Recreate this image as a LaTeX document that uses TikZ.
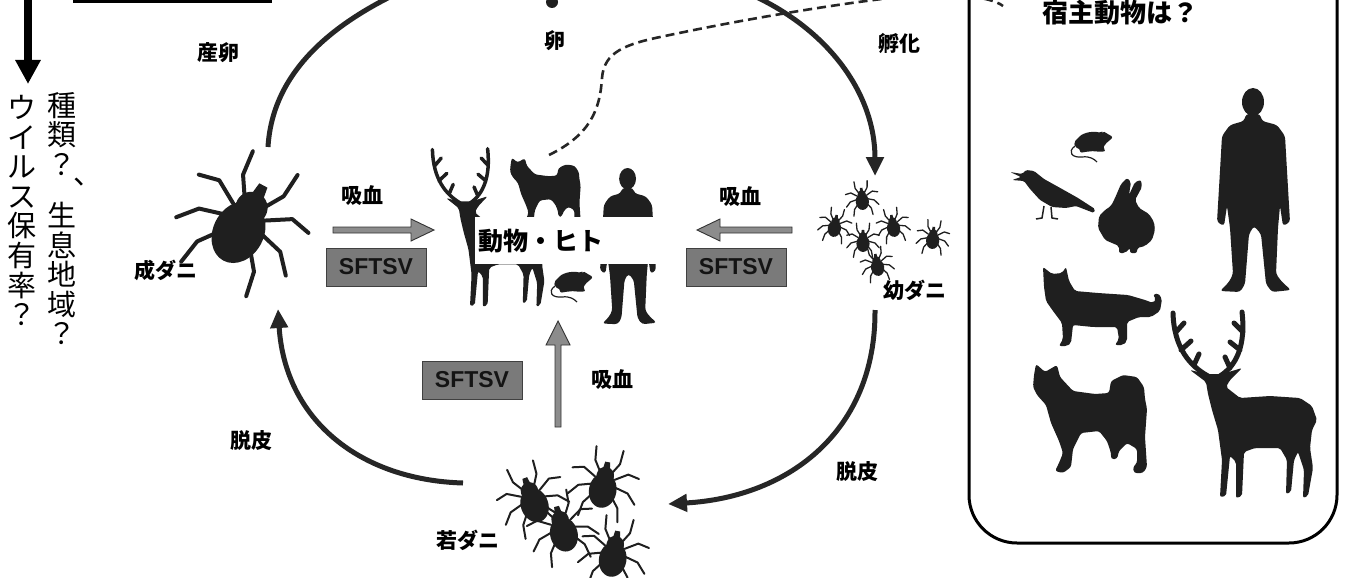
\documentclass[tikz,border=0pt]{standalone}
\usepackage{fontspec}
\setmainfont{Noto Sans CJK JP}
\newfontfamily\sftfont{Liberation Sans}
\usetikzlibrary{arrows.meta}

\tikzset{
  sil/.style={fill=black!88},
  lab/.style={font=\fontsize{21}{21}\selectfont\bfseries, inner sep=0pt},
  vert/.style={font=\fontsize{29}{29.6}\selectfont, align=center, inner sep=0pt},
  cyc/.style={line width=5pt, draw=black!85, -{Triangle[length=19pt,width=17pt]}},
  cycplain/.style={line width=5pt, draw=black!85},
  sfbox/.style={draw=black!75, line width=1pt, fill=black!52, minimum width=100pt,
    minimum height=38pt, inner sep=0pt, text=black!92,
    font=\sftfont\bfseries\fontsize{23}{23}\selectfont},
  fat/.style={fill=black!45, draw=black!80, line width=0.9pt},
  tickleg/.store in=\tickleg, tickleg=2pt,
  antw/.store in=\antw, antw=3pt,
  % a tick seen from above, head pointing up
  tick/.pic={
    \foreach \s in {1,-1}{
      \draw[line width=\tickleg, line cap=round, line join=round, black!88]
        (\s*-5,-9) -- (\s*-10,-17) -- (\s*-11,-28)
        (\s*-8,-4) -- (\s*-18,-10) -- (\s*-27,-8)
        (\s*-9,2) -- (\s*-20,5) -- (\s*-27,13)
        (\s*-7,9) -- (\s*-14,18) -- (\s*-16,29);
    }
    \fill[sil] (0,6) ellipse[x radius=11, y radius=14];
    \fill[sil] (0,-6) ellipse[x radius=7, y radius=7];
    \fill[sil] (-3,-10) -- (-2,-17) -- (2,-17) -- (3,-10) -- cycle;
  },
  person/.pic={
    \fill[sil] (36,14) ellipse[x radius=11, y radius=14];
    \fill[sil, rounded corners=3] (29,26) -- (43,26) -- (45,33) -- (60,37) -- (68,48)
      -- (71,100) -- (73,134) -- (66,138) -- (63,118) -- (61,140) -- (59,186)
      -- (65,194) -- (74,202) -- (55,204) -- (49,196) -- (44,146) -- (37,138)
      -- (32,146) -- (28,196) -- (23,204) -- (3,203) -- (12,194) -- (16,186)
      -- (13,140) -- (10,118) -- (7,138) -- (0,134) -- (2,100) -- (5,48)
      -- (13,37) -- (27,33) -- cycle;
  },
  mouse/.pic={
    \fill[sil, rounded corners=2] (6,6) .. controls (12,0) and (22,-1) .. (29,1)
      -- (31,-1) -- (34,1) -- (41,5) -- (37,9) -- (33,12) -- (31,17) -- (34,19)
      -- (28,20) -- (22,19) -- (12,20) -- (8,21) -- (9,18) -- (3,15) -- (2,10) -- cycle;
    \draw[line width=1.2, black!88] (3,14) .. controls (-5,20) and (0,26) .. (10,25)
      .. controls (18,24) and (22,27) .. (25,30);
  },
  bird/.pic={
    \fill[sil, rounded corners=1.5] (0,2) -- (12,4) -- (16,0) -- (24,1) -- (34,9)
      -- (52,19) -- (68,28) -- (85,39) -- (84,43) -- (66,36) -- (56,38) -- (42,37)
      -- (30,30) -- (20,19) -- (14,11) -- (2,10) -- (11,7) -- cycle;
    \draw[line width=1.5, black!88] (34,36) -- (32,48) -- (26,49) (41,37) -- (42,48) -- (48,49);
  },
  rabbit/.pic={
    \fill[sil, rounded corners=2] (14,28) -- (18,20) -- (24,6) -- (30,0) -- (34,4)
      -- (32,17) -- (38,4) -- (44,2) -- (45,9) -- (38,22) -- (42,30) -- (52,36)
      -- (57,44) -- (58,52) -- (55,62) -- (48,68) -- (40,70) -- (40,75) -- (33,75)
      -- (33,70) -- (28,75) -- (22,75) -- (22,68) -- (8,62) -- (1,50) -- (2,38)
      -- (8,32) -- cycle;
  },
  cat/.pic={
    \fill[sil, rounded corners=2] (0,0) -- (9,7) -- (19,6) -- (23,0) -- (26,14)
      -- (32,24) -- (55,26) -- (85,28) -- (102,33) -- (110,36) -- (113,32) -- (110,28)
      -- (115,26) -- (119,32) -- (117,44) -- (108,50) -- (96,50) -- (84,55) -- (84,74)
      -- (80,78) -- (72,78) -- (76,72) -- (74,60) -- (50,60) -- (30,58) -- (28,76)
      -- (24,79) -- (16,79) -- (20,72) -- (19,56) -- (10,44) -- (3,34) -- (1,20) -- cycle;
  },
  dog/.pic={
    \fill[sil, rounded corners=2.5] (3,1) -- (12,9) -- (24,2) -- (27,14) -- (40,28)
      -- (62,31) -- (76,30) -- (78,18) -- (90,12) -- (104,14) -- (111,24) -- (112,36)
      -- (114,46) -- (112,74) -- (114,104) -- (110,110) -- (101,110) -- (100,104)
      -- (104,100) -- (104,86) -- (94,80) -- (86,88) -- (84,96) -- (78,96) -- (78,90)
      -- (74,78) -- (66,68) -- (48,70) -- (40,86) -- (38,104) -- (30,110) -- (22,108)
      -- (26,100) -- (30,90) -- (26,78) -- (18,60) -- (13,42) -- (4,32) -- (0,24)
      -- (1,12) -- cycle;
  },
  deer/.pic={
    \draw[line width=\antw, line cap=round, black!88]
      (38,66) .. controls (20,56) and (4,38) .. (3,3)
      (6,22) -- (14,13) (11,40) -- (21,31) (24,55) -- (29,44)
      (50,66) .. controls (66,56) and (76,36) .. (72,2)
      (73,22) -- (64,13) (70,40) -- (60,32) (60,58) -- (55,47);
    \fill[sil, rounded corners=2] (20,60) -- (36,64) -- (52,64) -- (72,58) -- (60,70)
      -- (56,77) -- (70,88) -- (100,86) -- (130,88) -- (142,96) -- (147,110)
      -- (142,120) -- (140,138) -- (143,158) -- (138,186) -- (133,188) -- (134,160)
      -- (128,142) -- (124,150) -- (121,182) -- (116,184) -- (117,150) -- (110,138)
      -- (85,138) -- (74,142) -- (72,186) -- (66,188) -- (66,152) -- (60,146)
      -- (56,186) -- (50,187) -- (52,150) -- (48,120) -- (42,100) -- (38,84)
      -- (36,72) -- cycle;
  }
}

\begin{document}
\begin{tikzpicture}[x=1pt,y=-1pt]
\useasboundingbox (0,0) rectangle (1347,578);
\fill[white] (0,0) rectangle (1347,578);
\clip (0,0) rectangle (1347,578);

% ---- left margin: bar, arrow and vertical questions
\draw[line width=6pt] (73,0) -- (272,0);
\coordinate (qTop) at (28,-5);
\coordinate (qTip) at (28,84);
\draw[line width=8pt, -{Triangle[length=24pt,width=24pt]}] (qTop) -- (qTip);
\node[vert, anchor=north] (colA) at (22,95) {ウ\\イ\\ル\\ス\\保\\有\\率\\？};
\node[vert, anchor=north] (colB1) at (62,92) {種\\類\\？};
\node[vert] (colComma) at (88,182) {、};
\node[vert, anchor=north] (colB2) at (62,202) {生\\息\\地\\域\\？};

% ---- life cycle of the tick
\fill[sil] (552,2) circle (6);
\coordinate (adultTop) at (268,147);
\coordinate (eggL) at (400,-8);
\coordinate (eggR) at (750,-6);
\coordinate (larvaTop) at (875,176);
\coordinate (larvaBot) at (875,310);
\coordinate (nymphR) at (668,504);
\coordinate (nymphL) at (463,483);
\coordinate (adultBot) at (278,309);
\draw[cycplain] (adultTop) .. controls (272,80) and (320,30) .. (eggL);
\draw[cyc] (eggR) .. controls (830,30) and (875,95) .. (larvaTop);
\draw[cyc] (larvaBot) .. controls (876,430) and (790,497) .. (nymphR);
\draw[cyc] (nymphL) .. controls (360,480) and (285,420) .. (adultBot);

\node[lab] (lLay) at (218,53) {産卵};
\node[lab] (lEgg) at (555,41) {卵};
\node[lab] (lHatch) at (899,43) {孵化};
\node[lab] (lAdult) at (166,270) {成ダニ};
\node[lab] (lLarva) at (915,290) {幼ダニ};
\node[lab] (lNymph) at (468,540) {若ダニ};
\node[lab] (lMoltL) at (251,441) {脱皮};
\node[lab] (lMoltR) at (857,472) {脱皮};

% ticks
\pic[scale=2.3, rotate=-28, tickleg=4pt] at (245,220) {tick};
\pic[scale=0.6, rotate=5, tickleg=1.3pt] at (862,198) {tick};
\pic[scale=0.6, rotate=-10, tickleg=1.3pt] at (835,225) {tick};
\pic[scale=0.6, rotate=10, tickleg=1.3pt] at (893,225) {tick};
\pic[scale=0.6, rotate=0, tickleg=1.3pt] at (863,240) {tick};
\pic[scale=0.6, rotate=-5, tickleg=1.3pt] at (933,237) {tick};
\pic[scale=0.6, rotate=10, tickleg=1.3pt] at (877,264) {tick};
\pic[scale=1.25, rotate=20, tickleg=2pt] at (532,498) {tick};
\pic[scale=1.25, rotate=-10, tickleg=2pt] at (604,483) {tick};
\pic[scale=1.25, rotate=15, tickleg=2pt] at (562,527) {tick};
\pic[scale=1.25, rotate=-10, tickleg=2pt] at (614,552) {tick};

% ---- hosts in the middle
\pic[xscale=0.8, yscale=0.85, antw=3.5pt] at (430,147) {deer};
\pic[scale=0.62] at (510,157) {dog};
\pic[scale=0.766] at (600,168) {person};
\pic at (552,272) {mouse};
\fill[white] (475,217) rectangle (662,264);
\node[font=\fontsize{25}{25}\selectfont\bfseries, inner sep=0pt] (hosts) at (541,241) {動物・ヒト};

\coordinate (dashStart) at (549,155);
\draw[line width=2.6pt, dash pattern=on 9pt off 5pt, black!85] (dashStart)
  .. controls (590,135) and (600,110) .. (602,78)
  .. controls (604,52) and (625,44) .. (665,36)
  .. controls (740,20) and (830,5) .. (890,-2)
  .. controls (950,-8) and (990,-4) .. (1003,6);

% blood meals
\node[lab] (bL) at (362,196) {吸血};
\node[lab] (bR) at (740,197) {吸血};
\node[lab] (bB) at (612,380) {吸血};
\fill[fat] (333,227) -- (411,227) -- (411,219) -- (434,230) -- (411,241) -- (411,233) -- (333,233) -- cycle;
\fill[fat] (792,227) -- (720,227) -- (720,219) -- (697,230) -- (720,241) -- (720,233) -- (792,233) -- cycle;
\fill[fat] (555,427) -- (555,345) -- (546,345) -- (558,321) -- (570,345) -- (561,345) -- (561,427) -- cycle;
\node[sfbox] (svL) at (376,267) {SFTSV};
\node[sfbox] (svR) at (736,267) {SFTSV};
\node[sfbox] (svB) at (472,380) {SFTSV};

% ---- host animals panel
\draw[line width=3pt, rounded corners=48pt] (969,-80) rectangle (1337,543);
\node[font=\fontsize{26}{26}\selectfont\bfseries, inner sep=0pt] (boxTitle) at (1120,13) {宿主動物は？};
\pic at (1072,132) {mouse};
\pic at (1010,170) {bird};
\pic at (1097,178) {rabbit};
\pic at (1217,88) {person};
\pic at (1043,267) {cat};
\pic at (1033,363) {dog};
\pic[antw=5pt] at (1170,310) {deer};
\end{tikzpicture}
\end{document}
